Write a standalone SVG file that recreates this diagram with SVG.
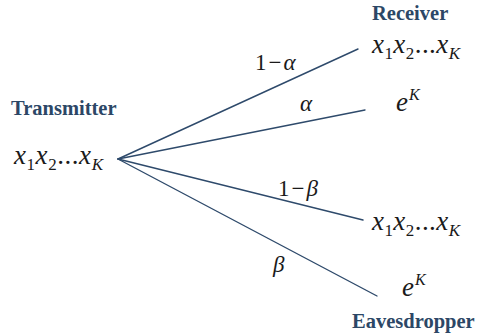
<svg xmlns="http://www.w3.org/2000/svg" width="481" height="336" viewBox="0 0 481 336">
<style>
.title{font-family:"Liberation Serif","Times New Roman",serif;font-weight:bold;font-size:20.5px;fill:#2c4766}
.m{font-family:"Liberation Serif","Times New Roman",serif;font-size:27px;fill:#1a1a1a}
.i{font-style:italic}
.sub{font-size:17px}
.sup{font-size:16px}
.lbl{font-family:"Liberation Serif","Times New Roman",serif;font-size:23px;fill:#1a1a1a}
.edge{stroke:#2e4a6b;stroke-width:1.4;fill:none;stroke-linecap:round}
</style>
<rect width="481" height="336" fill="#ffffff"/>
<g id="connectors">
<line class="edge" x1="118" y1="159" x2="358" y2="49"/>
<line class="edge" x1="118" y1="159" x2="365" y2="110"/>
<line class="edge" x1="118" y1="159" x2="363" y2="220"/>
<line class="edge" x1="118" y1="159" x2="377" y2="296"/>
<text class="lbl" x="255" y="70">1<tspan dx="2">−</tspan><tspan class="i" dx="2">α</tspan></text>
<text class="lbl i" x="300" y="111">α</text>
<text class="lbl" x="278" y="196">1<tspan dx="2">−</tspan><tspan class="i" dx="2">β</tspan></text>
<text class="lbl i" x="273" y="272">β</text>
</g>
<g id="transmitter">
<text class="title" x="11" y="115">Transmitter</text>
<text class="m" x="14" y="164" textLength="89" lengthAdjust="spacing"><tspan class="i">x</tspan><tspan class="sub" dy="6">1</tspan><tspan class="i" dy="-6">x</tspan><tspan class="sub" dy="6">2</tspan><tspan dy="-6">...</tspan><tspan class="i">x</tspan><tspan class="sub i" dy="6">K</tspan></text>
</g>
<g id="receiver">
<text class="title" x="372" y="20">Receiver</text>
<text class="m" x="372" y="53" textLength="88" lengthAdjust="spacing"><tspan class="i">x</tspan><tspan class="sub" dy="6">1</tspan><tspan class="i" dy="-6">x</tspan><tspan class="sub" dy="6">2</tspan><tspan dy="-6">...</tspan><tspan class="i">x</tspan><tspan class="sub i" dy="6">K</tspan></text>
<text class="m" x="396" y="111"><tspan class="i">e</tspan><tspan class="sup i" dx="1" dy="-11">K</tspan></text>
</g>
<g id="eavesdropper">
<text class="m" x="372" y="230" textLength="88" lengthAdjust="spacing"><tspan class="i">x</tspan><tspan class="sub" dy="6">1</tspan><tspan class="i" dy="-6">x</tspan><tspan class="sub" dy="6">2</tspan><tspan dy="-6">...</tspan><tspan class="i">x</tspan><tspan class="sub i" dy="6">K</tspan></text>
<text class="m" x="402" y="296"><tspan class="i">e</tspan><tspan class="sup i" dx="1" dy="-11">K</tspan></text>
<text class="title" x="352" y="328">Eavesdropper</text>
</g>
</svg>
